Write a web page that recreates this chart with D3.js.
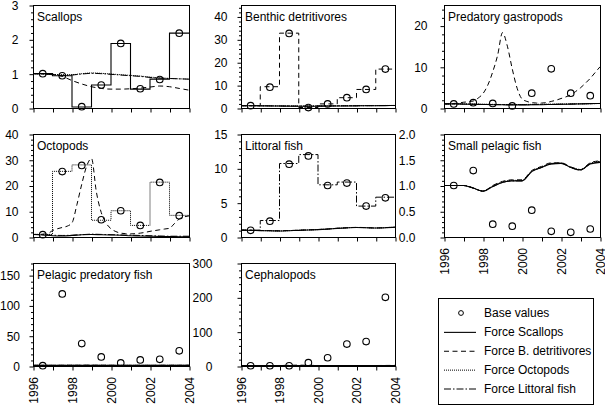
<!DOCTYPE html>
<html><head><meta charset="utf-8">
<script src="https://cdn.jsdelivr.net/npm/d3@7"></script>
<style>
body{margin:0;background:#fff}
svg{display:block}
text{font-family:"Liberation Sans",Arial,Helvetica,sans-serif;fill:#000}
</style>
</head><body>
<svg id="chart" width="605" height="407"></svg>
<script>
// ---------- data ----------
const panelNames = ["Scallops","Benthic detritivores","Predatory gastropods","Octopods","Littoral fish","Small pelagic fish","Pelagic predatory fish","Cephalopods"];
const yMax      = [3, 45, 25, 40, 15, 2, 170, 300];
const yMajor    = [1, 10, 10, 10, 5, 0.5, 50, 100];
const yMinor    = [0.2, 2, 2, 2, 1, 0.1, 10, 20];
const xTickYears  = [1996,1997,1998,1999,2000,2001,2002,2003,2004];
const xLabelYears = [1996,1998,2000,2002,2004];

const baseYears = [1996.5,1997.5,1998.5,1999.5,2000.5,2001.5,2002.5,2003.5];
const stepYears = [1996,1997,1998,1999,2000,2001,2002,2003,2004];
const halfYears = [1996,1996.5,1997,1997.5,1998,1998.5,1999,1999.5,2000,2000.5,2001,2001.5,2002,2002.5,2003,2003.5,2004];
const quarterYears = [1996,1996.25,1996.5,1996.75,1997,1997.25,1997.5,1997.75,1998,1998.25,1998.5,1998.75,1999,1999.25,1999.5,1999.75,2000,2000.25,2000.5,2000.75,2001,2001.25,2001.5,2001.75,2002,2002.25,2002.5,2002.75,2003,2003.25,2003.5,2003.75,2004];

// base values (circles)
const base_scallops     = [1.0,0.94,0.04,0.67,1.88,0.56,0.83,2.18];
const base_benthic      = [1.0,9.1,32.6,0.2,1.8,4.5,8.1,17.0];
const base_gastropods   = [1.0,1.3,1.1,0.5,3.6,9.5,3.6,3.0];
const base_octopods     = [0.9,25.4,27.8,6.7,10.2,4.5,21.2,8.3];
const base_littoral     = [0.97,2.3,10.6,11.8,7.5,7.85,4.5,5.7];
const base_smallPelagic = [1.0,1.29,0.25,0.21,0.52,0.11,0.09,0.155];
const base_pelagicPred  = [0.6,119,37,15,5,10,11,25];
const base_cephalopods  = [0.8,0.8,0.8,9.6,24,64,71,200];

// Scallops
const scal_forceScallops = [1.0,0.94,0.03,0.67,1.88,0.55,0.84,2.18,2.18];           // stepYears
const scal_forceBenthic  = [1.0,1.0,0.98,0.92,0.80,0.70,0.62,0.57,0.55,0.55,0.56,0.58,0.61,0.64,0.62,0.57,0.52];
const scal_forceOctopods = [1.0,0.99,0.98,0.97,0.97,1.0,1.02,1.01,0.99,0.97,0.95,0.93,0.90,0.88,0.86,0.85,0.84];
const scal_forceLittoral = [1.0,0.99,0.97,0.95,0.96,0.99,1.01,1.0,0.98,0.96,0.94,0.92,0.89,0.87,0.86,0.85,0.84];
// Benthic detritivores
const bent_forceScallops = [1.0,1.0,0.95,0.9,0.85,0.8,0.75,0.75,0.8,0.85,0.9,0.9,0.95,1.0,1.0,1.05,1.1];
const bent_forceBenthic  = [1.0,9.3,32.7,0.2,1.8,4.5,8.1,17.0,17.0];                 // stepYears
const bent_forceOctopods = [1.0,1.0,1.0,0.95,0.9,0.9,0.85,0.85,0.9,0.9,0.95,1.0,1.0,1.05,1.05,1.1,1.1];
const bent_forceLittoral = [1.0,1.0,0.98,0.95,0.9,0.88,0.85,0.85,0.88,0.9,0.95,0.98,1.0,1.02,1.05,1.08,1.1];
// Predatory gastropods
const gast_forceScallops = [1.0,1.0,0.95,0.9,0.85,0.8,0.78,0.75,0.75,0.78,0.8,0.85,0.9,0.95,1.0,1.05,1.1];
const gast_forceBenthic  = [1.0,1.0,1.1,1.2,1.4,1.5,1.7,2.4,3.5,5.6,8.8,12.8,18.3,15.0,9.5,4.8,2.2,1.6,1.3,1.2,1.2,1.3,1.6,1.9,2.3,2.7,3.2,4.0,4.9,6.0,7.2,8.6,10.0]; // quarterYears
const gast_forceOctopods = [1.0,1.0,0.98,0.95,0.9,0.88,0.85,0.85,0.85,0.88,0.9,0.92,0.95,1.0,1.02,1.05,1.1];
const gast_forceLittoral = [1.0,1.0,0.97,0.93,0.88,0.85,0.82,0.8,0.8,0.82,0.85,0.88,0.92,0.97,1.0,1.05,1.1];
// Octopods
const octo_forceScallops = [1.0,0.8,0.5,0.4,0.6,0.9,1.0,0.9,0.8,0.7,0.5,0.4,0.3,0.2,0.15,0.1,0.1];
const octo_forceBenthic  = [1.0,1.0,1.1,1.3,2.5,3.2,3.7,4.2,5.5,12.5,20.5,27.5,30.5,17.5,9.5,5.4,3.2,2.1,1.5,1.3,1.2,1.3,1.5,1.8,2.2,2.5,2.8,3.1,3.4,5.2,7.0,7.8,8.2]; // quarterYears
const octo_forceOctopods = [1.0,25.5,28.0,6.5,10.2,4.5,21.3,8.4,8.4];                // stepYears
const octo_forceLittoral = [1.0,0.9,0.7,0.6,0.7,0.9,1.1,1.0,0.9,0.8,0.7,0.6,0.5,0.4,0.3,0.3,0.3];
// Littoral fish
const litt_forceScallops = [1.0,0.97,0.93,0.9,0.87,0.92,0.97,1.02,1.07,1.15,1.25,1.33,1.38,1.35,1.3,1.35,1.42];
const litt_forceBenthic  = [1.0,0.98,0.95,0.92,0.9,0.94,0.99,1.04,1.09,1.17,1.27,1.35,1.4,1.37,1.32,1.37,1.44];
const litt_forceOctopods = [1.0,0.97,0.94,0.91,0.88,0.93,0.98,1.03,1.08,1.16,1.26,1.34,1.39,1.36,1.31,1.36,1.43];
const litt_forceLittoral = [1.0,2.4,10.7,12.0,7.6,8.0,4.5,5.8,5.8];                   // stepYears
// Small pelagic fish
const smpe_forceScallops = [1.0,1.0,1.0,0.95,0.89,0.98,1.06,1.09,1.09,1.27,1.35,1.42,1.43,1.35,1.30,1.42,1.45];
const smpe_forceBenthic  = [1.0,1.0,1.0,0.95,0.89,1.0,1.08,1.11,1.11,1.29,1.37,1.44,1.44,1.36,1.31,1.44,1.48];
const smpe_forceOctopods = [1.0,1.0,1.0,0.95,0.89,0.99,1.07,1.10,1.10,1.28,1.36,1.43,1.44,1.36,1.31,1.43,1.47];
const smpe_forceLittoral = [1.0,1.0,1.0,0.95,0.89,0.98,1.06,1.09,1.09,1.27,1.35,1.42,1.43,1.35,1.30,1.42,1.46];
// Pelagic predatory fish
const pepr_forceScallops = [1,1,1,1,1,1,1,1,1,1,1,1,1,1,1,1,1];
const pepr_forceBenthic  = [1,1,1,1.1,1.2,1.2,1.3,1.2,1.1,1,1,1,1,1.1,1.1,1.2,1.2];
const pepr_forceOctopods = [1,1,1,1,1,1,1,1,1,1,1,1,1,1,1,1,1];
const pepr_forceLittoral = [1,1,1,1,1,1,1,1,1,1,1,1,1,1,1,1,1];
// Cephalopods
const ceph_forceScallops = [1,1,1,1,1,1,1,1,1,1,1,1,1,1,1,1,1];
const ceph_forceBenthic  = [1,1,1,1.2,1.5,2,2.5,2,1.5,1.2,1,1,1.1,1.2,1.4,1.6,1.8];
const ceph_forceOctopods = [1,1,1,1,1,1,1,1,1,1,1,1,1,1,1,1,1];
const ceph_forceLittoral = [1,1,1,1,1,1,1,1,1,1,1,1,1,1,1,1,1];

const legendLabels = ["Base values","Force Scallops","Force B. detritivores","Force Octopods","Force Littoral fish"];

// ---------- assemble ----------
const baseSets = [base_scallops,base_benthic,base_gastropods,base_octopods,base_littoral,base_smallPelagic,base_pelagicPred,base_cephalopods];
function S(t, v, step){ return {t, v, step}; }
const forceSets = [
  [S(stepYears,scal_forceScallops,true), S(halfYears,scal_forceBenthic), S(halfYears,scal_forceOctopods), S(halfYears,scal_forceLittoral)],
  [S(halfYears,bent_forceScallops), S(stepYears,bent_forceBenthic,true), S(halfYears,bent_forceOctopods), S(halfYears,bent_forceLittoral)],
  [S(halfYears,gast_forceScallops), S(quarterYears,gast_forceBenthic), S(halfYears,gast_forceOctopods), S(halfYears,gast_forceLittoral)],
  [S(halfYears,octo_forceScallops), S(quarterYears,octo_forceBenthic), S(stepYears,octo_forceOctopods,true), S(halfYears,octo_forceLittoral)],
  [S(halfYears,litt_forceScallops), S(halfYears,litt_forceBenthic), S(halfYears,litt_forceOctopods), S(stepYears,litt_forceLittoral,true)],
  [S(halfYears,smpe_forceScallops), S(halfYears,smpe_forceBenthic), S(halfYears,smpe_forceOctopods), S(halfYears,smpe_forceLittoral)],
  [S(halfYears,pepr_forceScallops), S(halfYears,pepr_forceBenthic), S(halfYears,pepr_forceOctopods), S(halfYears,pepr_forceLittoral)],
  [S(halfYears,ceph_forceScallops), S(halfYears,ceph_forceBenthic), S(halfYears,ceph_forceOctopods), S(halfYears,ceph_forceLittoral)]
];

// ---------- layout & styles ----------
const cols = [[33,189],[241,395],[444,600]];
const rows = [[5,108],[134,237],[263,366]];
const yLabelGap = [15, 14, 17, 15, 14, 29, 13.5, 29];   // distance from axis line to right edge of y labels
const labelPanels = [5,6,7];
const dashes = [null, "5,3.5", "1,1", "7,2,1.5,2"];
const strokeW = [1.1, 1, 1, 1];
const FONT = 12;

const svg = d3.select("#chart");

panelNames.forEach((name, i) => {
  const c = cols[i % 3], r = rows[Math.floor(i / 3)];
  const x = d3.scaleLinear().domain([1996, 2004]).range([c[0], c[1]]);
  const y = d3.scaleLinear().domain([0, yMax[i]]).range([r[1], r[0]]);
  const g = svg.append("g");

  const clipId = "clip" + i;
  svg.append("clipPath").attr("id", clipId).append("rect")
    .attr("x", c[0]).attr("y", r[0]).attr("width", c[1] - c[0]).attr("height", r[1] - r[0] + 1);

  // lines
  const lg = g.append("g").attr("clip-path", `url(#${clipId})`);
  forceSets[i].forEach((s, k) => {
    const line = d3.line()
      .x((d, j) => x(s.t[j])).y(d => y(d))
      .curve(s.step ? d3.curveStepAfter : d3.curveMonotoneX);
    lg.append("path").datum(s.v).attr("d", line)
      .attr("fill", "none").attr("stroke", "#000")
      .attr("stroke-width", strokeW[k])
      .attr("stroke-dasharray", dashes[k]);
  });

  // base circles
  g.append("g").selectAll("circle").data(baseSets[i]).join("circle")
    .attr("cx", (d, j) => x(baseYears[j])).attr("cy", d => y(d))
    .attr("r", 3.3).attr("fill", "none").attr("stroke", "#000").attr("stroke-width", 1.1);

  // frame
  g.append("rect").attr("x", c[0] + 0.5).attr("y", r[0] + 0.5)
    .attr("width", c[1] - c[0]).attr("height", r[1] - r[0])
    .attr("fill", "none").attr("stroke", "#000").attr("stroke-width", 1);

  // y axis major + minor
  const majTicks = d3.range(0, yMax[i] + 1e-9, yMajor[i]);
  const minTicks = d3.range(0, yMax[i] + 1e-9, yMinor[i]).filter(v => !majTicks.some(m => Math.abs(m - v) < 1e-9));
  const fmt = yMajor[i] < 1 ? d3.format(".1f") : d3.format("d");
  const ya = g.append("g").attr("transform", `translate(${c[0] + 0.5},0.5)`)
    .call(d3.axisLeft(y).tickValues(majTicks).tickFormat(fmt).tickSize(4).tickPadding(yLabelGap[i] - 4));
  const ym = g.append("g").attr("transform", `translate(${c[0] + 0.5},0.5)`)
    .call(d3.axisLeft(y).tickValues(minTicks).tickFormat("").tickSize(2.5));
  [ya, ym].forEach(a => { a.select(".domain").remove(); a.selectAll("line").attr("stroke", "#000"); });
  ya.selectAll("text").attr("font-size", FONT).attr("fill", "#000");

  // x axis ticks
  const xa = g.append("g").attr("transform", `translate(0.5,${r[1] + 0.5})`)
    .call(d3.axisBottom(x).tickValues(xTickYears).tickSize(4).tickFormat(""));
  xa.select(".domain").remove();
  xa.selectAll("line").attr("stroke", "#000");

  // rotated year labels
  if (labelPanels.includes(i)) {
    const lab = g.append("g").selectAll("g").data(xLabelYears).join("g")
      .attr("transform", d => `translate(${x(d) + 0.5},${r[1] + 11}) rotate(-90)`);
    lab.append("text")
      .attr("text-anchor", "end").attr("dy", "0.35em")
      .attr("font-size", FONT)
      .text(d => d3.format("d")(d));
  }

  // title
  g.append("text").attr("x", c[0] + 4).attr("y", r[0] + 16)
    .attr("font-size", FONT).text(name);
});

// ---------- legend ----------
const lgX = 438, lgY = 298, lgW = 155, lgH = 106;
const leg = svg.append("g");
leg.append("rect").attr("x", lgX + 0.5).attr("y", lgY + 0.5).attr("width", lgW).attr("height", lgH)
  .attr("fill", "#fff").attr("stroke", "#000");
const ly = d3.scalePoint().domain(legendLabels).range([lgY + 15, lgY + 90.5]);
legendLabels.forEach((lab, k) => {
  const yy = ly(lab);
  if (k === 0) {
    leg.append("circle").attr("cx", lgX + 23).attr("cy", yy).attr("r", 2.4)
      .attr("fill", "none").attr("stroke", "#000").attr("stroke-width", 1);
  } else {
    leg.append("line").attr("x1", lgX + 6).attr("x2", lgX + 38).attr("y1", yy + 0.5).attr("y2", yy + 0.5)
      .attr("stroke", "#000").attr("stroke-width", strokeW[k - 1]).attr("stroke-dasharray", dashes[k - 1]);
  }
  leg.append("text").attr("x", lgX + 46).attr("y", yy).attr("dy", "0.35em")
    .attr("font-size", FONT).text(lab);
});
</script>
</body></html>
